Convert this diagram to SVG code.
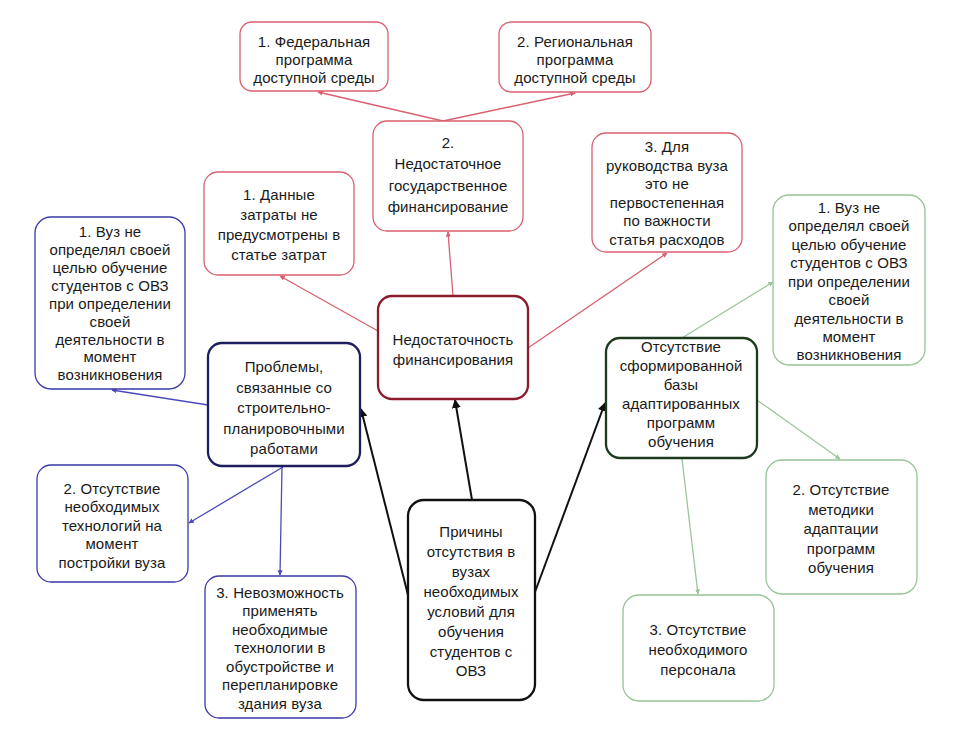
<svg xmlns="http://www.w3.org/2000/svg" width="954" height="747" viewBox="0 0 954 747">
<style>
rect{fill:#fff}
.r{stroke:#d9606e;stroke-width:1.3}
.rm{stroke:#8a1c2c;stroke-width:2.3}
.b{stroke:#3a3aa8;stroke-width:1.3}
.bm{stroke:#1e1e5e;stroke-width:2.3}
.g{stroke:#98c498;stroke-width:1.3}
.gm{stroke:#1e3a1e;stroke-width:2.3}
.k{stroke:#111;stroke-width:2.3}
text{font-family:"Liberation Sans",Arial,sans-serif;font-size:15px;letter-spacing:0.1px;fill:#1a1a1a;text-anchor:middle}
.lr{stroke:#d9606e;stroke-width:1.3;fill:none;marker-end:url(#ar)}
.lb{stroke:#4a4ab8;stroke-width:1.3;fill:none;marker-end:url(#ab)}
.lg{stroke:#9cc49c;stroke-width:1.3;fill:none;marker-end:url(#ag)}
.lk{stroke:#111;stroke-width:2;fill:none;marker-end:url(#ak)}
</style>
<defs>
<marker id="ar" viewBox="0 0 10 10" refX="9" refY="5" markerWidth="4" markerHeight="4" orient="auto"><path d="M0,0L10,5L0,10z" fill="#d9606e"/></marker>
<marker id="ab" viewBox="0 0 10 10" refX="9" refY="5" markerWidth="4" markerHeight="4" orient="auto"><path d="M0,0L10,5L0,10z" fill="#4a4ab8"/></marker>
<marker id="ag" viewBox="0 0 10 10" refX="9" refY="5" markerWidth="4" markerHeight="4" orient="auto"><path d="M0,0L10,5L0,10z" fill="#9cc49c"/></marker>
<marker id="ak" viewBox="0 0 10 10" refX="9" refY="5" markerWidth="4.5" markerHeight="4.5" orient="auto"><path d="M0,0L10,5L0,10z" fill="#111"/></marker>
</defs>
<rect width="954" height="747" style="fill:#fff"/>
<g id="connectors">
<line class="lr" x1="443" y1="121" x2="318" y2="92"/>
<line class="lr" x1="443" y1="121" x2="575" y2="93"/>
<line class="lr" x1="453" y1="296" x2="448" y2="232"/>
<line class="lr" x1="378" y1="331" x2="280" y2="276"/>
<line class="lr" x1="528" y1="348" x2="667" y2="253"/>
<line class="lk" x1="472" y1="500" x2="455" y2="400"/>
<line class="lk" x1="408" y1="595" x2="361" y2="409"/>
<line class="lk" x1="535" y1="592" x2="605" y2="403"/>
<line class="lb" x1="208" y1="405" x2="112" y2="390"/>
<line class="lb" x1="283" y1="467" x2="189" y2="523"/>
<line class="lb" x1="282" y1="467" x2="280" y2="575"/>
<line class="lg" x1="682" y1="338" x2="773" y2="282"/>
<line class="lg" x1="757" y1="400" x2="840" y2="459"/>
<line class="lg" x1="682" y1="459" x2="698" y2="594"/>
</g>
<g id="fed"><rect class="r" x="240" y="22" width="148" height="69" rx="12"/>
<text x="314" y="47">1. Федеральная</text><text x="314" y="65">программа</text><text x="314" y="83">доступной среды</text></g>
<g id="reg"><rect class="r" x="499" y="22" width="152" height="70" rx="12"/>
<text x="575" y="47">2. Региональная</text><text x="575" y="65">программа</text><text x="575" y="83">доступной среды</text></g>
<g id="gov"><rect class="r" x="373" y="121" width="150" height="110" rx="14"/>
<text x="448" y="148">2.</text><text x="448" y="169">Недостаточное</text><text x="448" y="191">государственное</text><text x="448" y="212">финансирование</text></g>
<g id="costs"><rect class="r" x="204" y="172" width="150" height="103" rx="14"/>
<text x="279" y="200">1. Данные</text><text x="279" y="220">затраты не</text><text x="279" y="240">предусмотрены в</text><text x="279" y="260">статье затрат</text></g>
<g id="mgmt"><rect class="r" x="592" y="133" width="150" height="119" rx="14"/>
<text x="667" y="152">3. Для</text><text x="667" y="171">руководства вуза</text><text x="667" y="189">это не</text><text x="667" y="208">первостепенная</text><text x="667" y="226">по важности</text><text x="667" y="245">статья расходов</text></g>
<g id="fin"><rect class="rm" x="378" y="296" width="150" height="103" rx="14"/>
<text x="453" y="345">Недостаточность</text><text x="453" y="365">финансирования</text></g>
<g id="b1"><rect class="b" x="35" y="217" width="150" height="172" rx="16"/>
<text x="110" y="237">1. Вуз не</text><text x="110" y="255">определял своей</text><text x="110" y="273">целью обучение</text><text x="110" y="291">студентов с ОВЗ</text><text x="110" y="309">при определении</text><text x="110" y="327">своей</text><text x="110" y="345">деятельности в</text><text x="110" y="362">момент</text><text x="110" y="380">возникновения</text></g>
<g id="constr"><rect class="bm" x="208" y="343" width="152" height="123" rx="14"/>
<text x="284" y="372">Проблемы,</text><text x="284" y="393">связанные со</text><text x="284" y="413">строительно-</text><text x="284" y="434">планировочными</text><text x="284" y="454">работами</text></g>
<g id="b2"><rect class="b" x="37" y="465" width="151" height="117" rx="14"/>
<text x="112" y="494">2. Отсутствие</text><text x="112" y="512">необходимых</text><text x="112" y="531">технологий на</text><text x="112" y="549">момент</text><text x="112" y="568">постройки вуза</text></g>
<g id="b3"><rect class="b" x="205" y="576" width="151" height="142" rx="14"/>
<text x="280" y="598">3. Невозможность</text><text x="280" y="616">применять</text><text x="280" y="635">необходимые</text><text x="280" y="653">технологии в</text><text x="280" y="672">обустройстве и</text><text x="280" y="690">перепланировке</text><text x="280" y="709">здания вуза</text></g>
<g id="root"><rect class="k" x="408" y="500" width="127" height="200" rx="16"/>
<text x="471" y="537">Причины</text><text x="471" y="557">отсутствия в</text><text x="471" y="577">вузах</text><text x="471" y="597">необходимых</text><text x="471" y="617">условий для</text><text x="471" y="637">обучения</text><text x="471" y="657">студентов с</text><text x="471" y="676">ОВЗ</text></g>
<g id="prog"><rect class="gm" x="606" y="338" width="151" height="120" rx="14"/>
<text x="681" y="352">Отсутствие</text><text x="681" y="371">сформированной</text><text x="681" y="390">базы</text><text x="681" y="409">адаптированных</text><text x="681" y="428">программ</text><text x="681" y="447">обучения</text></g>
<g id="g1"><rect class="g" x="773" y="195" width="152" height="170" rx="16"/>
<text x="849" y="213">1. Вуз не</text><text x="849" y="231">определял своей</text><text x="849" y="250">целью обучение</text><text x="849" y="268">студентов с ОВЗ</text><text x="849" y="287">при определении</text><text x="849" y="305">своей</text><text x="849" y="324">деятельности в</text><text x="849" y="342">момент</text><text x="849" y="360">возникновения</text></g>
<g id="g2"><rect class="g" x="766" y="460" width="151" height="134" rx="16"/>
<text x="841" y="495">2. Отсутствие</text><text x="841" y="515">методики</text><text x="841" y="534">адаптации</text><text x="841" y="554">программ</text><text x="841" y="573">обучения</text></g>
<g id="g3"><rect class="g" x="623" y="595" width="151" height="106" rx="16"/>
<text x="698" y="635">3. Отсутствие</text><text x="698" y="655">необходимого</text><text x="698" y="675">персонала</text></g>
</svg>
